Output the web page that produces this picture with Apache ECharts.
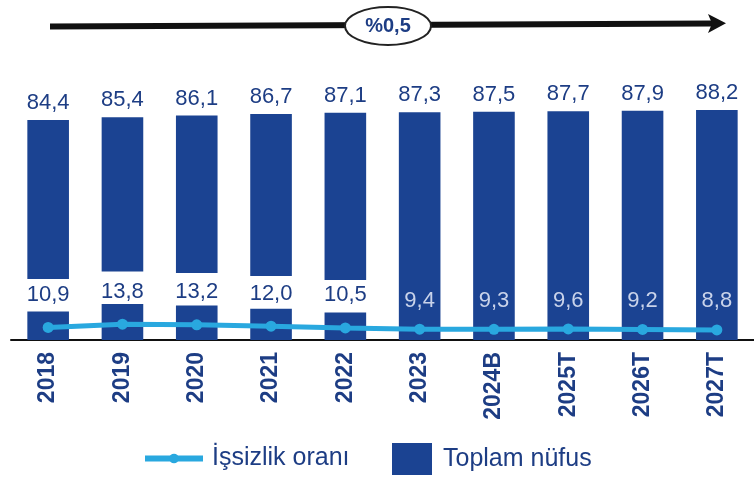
<!DOCTYPE html>
<html>
<head>
<meta charset="utf-8">
<script src="https://cdn.jsdelivr.net/npm/echarts@6/dist/echarts.min.js"></script>
<style>html,body{margin:0;padding:0;background:#fff}#c{width:754px;height:482px}</style>
</head>
<body>
<div id="c"></div>
<script>
var categories = ['2018','2019','2020','2021','2022','2023','2024B','2025T','2026T','2027T'];
var toplamNufus = [84.4, 85.4, 86.1, 86.7, 87.1, 87.3, 87.5, 87.7, 87.9, 88.2];
var issizlikOrani = [10.9, 13.8, 13.2, 12.0, 10.5, 9.4, 9.3, 9.6, 9.2, 8.8];
var brokenCount = 5;      // first bars drawn with a break (label gap)
var growthText = '%0,5';

var BAR = '#1b4392', NAVY = '#1d3d84', LINE = '#29a8df', LIGHT = '#c9d3ea';
var GAP = 12.5;
function fmt(v){ return v.toFixed(1).replace('.', ','); }

var bottomSeg = [], gapSeg = [], topSeg = [];
for (var i = 0; i < categories.length; i++) {
  if (i < brokenCount) {
    bottomSeg.push(issizlikOrani[i]);
    gapSeg.push(GAP);
    topSeg.push(+(toplamNufus[i] - issizlikOrani[i] - GAP).toFixed(3));
  } else {
    bottomSeg.push(0); gapSeg.push(0); topSeg.push(toplamNufus[i]);
  }
}
var lineData = issizlikOrani.map(function(v, i){
  return i < brokenCount ? {value: v, label: {distance: 16}} : {value: v, label: {color: LIGHT, distance: 12}};
});

var FONT = 'Liberation Sans, Arial, sans-serif';
var chart = echarts.init(document.getElementById('c'));
chart.setOption({
  animation: false,
  textStyle: {fontFamily: FONT},
  grid: {left: 11, right: -8.5, top: 110, bottom: 142, containLabel: false},
  xAxis: {
    type: 'category', data: categories,
    axisLine: {lineStyle: {color: '#111', width: 2}},
    axisTick: {show: false},
    axisLabel: {rotate: 90, fontSize: 23, fontWeight: 'bold', color: NAVY, margin: 12, fontFamily: FONT, interval: 0}
  },
  yAxis: [
    {type: 'value', min: 0, max: 'dataMax', show: false},
    {type: 'value', min: 0, max: 200, show: false}
  ],
  legend: [
    {data: ['İşsizlik oranı'], left: 142, top: 446, padding: 0, itemWidth: 58, itemHeight: 12,
     lineStyle: {width: 6}, itemStyle: {color: LINE},
     textStyle: {fontSize: 25, color: NAVY, fontFamily: FONT, padding: [0,0,0,4]}},
    {data: [{name: 'Toplam nüfus', icon: 'rect'}], left: 392, top: 443, padding: 0, itemWidth: 40, itemHeight: 32,
     textStyle: {fontSize: 25, color: NAVY, fontFamily: FONT, padding: [0,0,0,6]}}
  ],
  series: [
    {name: 'Toplam nüfus', type: 'bar', stack: 'n', barWidth: '56%', data: bottomSeg,
     itemStyle: {color: BAR}},
    {name: 'gap', type: 'bar', stack: 'n', barWidth: '56%', data: gapSeg, silent: true,
     itemStyle: {color: 'rgba(0,0,0,0)'}},
    {name: 'Toplam nüfus', type: 'bar', stack: 'n', barWidth: '56%', data: topSeg,
     itemStyle: {color: BAR},
     label: {show: true, position: 'top', distance: 6, fontSize: 22, color: NAVY, fontFamily: FONT,
       formatter: function(p){ return fmt(toplamNufus[p.dataIndex]); }}},
    {name: 'İşsizlik oranı', type: 'line', yAxisIndex: 1, data: lineData,
     symbol: 'circle', symbolSize: 11, lineStyle: {color: LINE, width: 5}, itemStyle: {color: LINE},
     label: {show: true, position: 'top', fontSize: 22, color: NAVY, fontFamily: FONT,
       formatter: function(p){ return fmt(p.value); }}}
  ],
  graphic: [
    {type: 'line', shape: {x1: 50, y1: 26.5, x2: 712, y2: 23.5}, style: {stroke: '#111', lineWidth: 6}, z: 10},
    {type: 'polygon', shape: {points: [[726, 23.3], [708, 14], [712, 23.5], [708, 33]]}, style: {fill: '#111'}, z: 10},
    {type: 'ellipse', shape: {cx: 388, cy: 26, rx: 43, ry: 19}, style: {fill: '#fff', stroke: '#222', lineWidth: 2}, z: 11},
    {type: 'text', x: 388, y: 26, style: {text: growthText, fill: NAVY, font: 'bold 20px ' + FONT, align: 'center', verticalAlign: 'middle'}, z: 12}
  ]
});
</script>
</body>
</html>
